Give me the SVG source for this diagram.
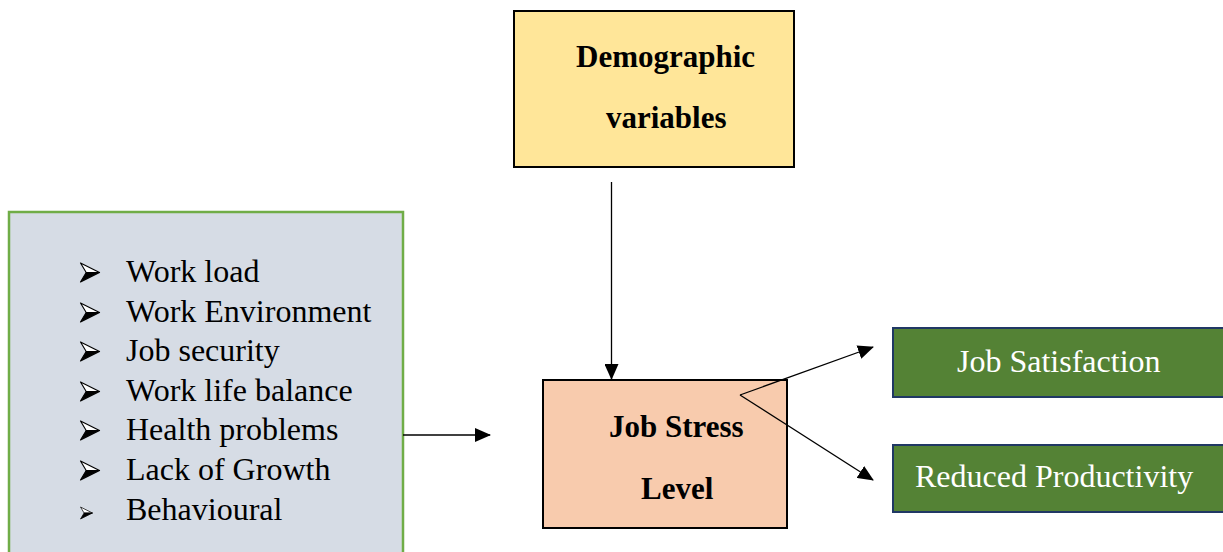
<svg xmlns="http://www.w3.org/2000/svg" xmlns:xlink="http://www.w3.org/1999/xlink" width="1223" height="552" viewBox="0 0 1223 552">
<style>
.t{font-family:"Liberation Serif","Times New Roman",serif;font-size:32px;fill:#000}
.b{font-weight:bold;font-size:31px}
.w{fill:#fff}
.line{stroke:#000;stroke-width:1.3;fill:none}
</style>
<defs>
<marker id="ah" markerWidth="16" markerHeight="14" refX="15" refY="7" orient="auto" markerUnits="userSpaceOnUse">
<path d="M0,0 L16,7 L0,14 z" fill="#000"/>
</marker>
<symbol id="bul" viewBox="0 0 20 20" overflow="visible">
<path d="M0,0 L20,10 L6,10 Z" fill="#fff" stroke="#000" stroke-width="1.2" stroke-linejoin="round"/>
<path d="M0,20 L20,10 L6,10 Z" fill="#000" stroke="#000" stroke-width="1.2" stroke-linejoin="round"/>
</symbol>
</defs>
<rect width="1223" height="552" fill="#fff"/>

<g id="factors">
<rect x="9" y="212" width="394" height="350" fill="#D6DCE5" stroke="#70AD47" stroke-width="2.5"/>
<use xlink:href="#bul" x="80" y="263" width="20" height="19"/>
<use xlink:href="#bul" x="80" y="303" width="20" height="19"/>
<use xlink:href="#bul" x="80" y="342" width="20" height="19"/>
<use xlink:href="#bul" x="80" y="382" width="20" height="19"/>
<use xlink:href="#bul" x="80" y="421" width="20" height="19"/>
<use xlink:href="#bul" x="80" y="461" width="20" height="19"/>
<use xlink:href="#bul" x="80" y="507" width="13" height="12"/>
<text class="t" x="126" y="282">Work load</text>
<text class="t" x="126" y="322">Work Environment</text>
<text class="t" x="126" y="361">Job security</text>
<text class="t" x="126" y="401">Work life balance</text>
<text class="t" x="126" y="440">Health problems</text>
<text class="t" x="126" y="480">Lack of Growth</text>
<text class="t" x="126" y="520">Behavioural</text>
</g>

<g id="demographic">
<rect x="514" y="11" width="280" height="156" fill="#FFE699" stroke="#000" stroke-width="2"/>
<text class="t b" x="576" y="67">Demographic</text>
<text class="t b" x="606" y="128">variables</text>
</g>

<g id="jobstress">
<rect x="543" y="380" width="244" height="148" fill="#F8CBAD" stroke="#000" stroke-width="2"/>
<text class="t b" x="609" y="437">Job Stress</text>
<text class="t b" x="641" y="499">Level</text>
</g>

<g id="satisfaction">
<rect x="893" y="328" width="340" height="69" fill="#548235" stroke="#203864" stroke-width="2"/>
<text class="t w" x="957" y="372">Job Satisfaction</text>
</g>

<g id="productivity">
<rect x="893" y="445" width="340" height="67" fill="#548235" stroke="#203864" stroke-width="2"/>
<text class="t w" x="915" y="487">Reduced Productivity</text>
</g>

<g id="connectors">
<line class="line" x1="611.5" y1="182" x2="611.5" y2="379" marker-end="url(#ah)"/>
<line class="line" x1="403" y1="435" x2="490" y2="435" marker-end="url(#ah)"/>
<line class="line" x1="740" y1="395" x2="873" y2="347" marker-end="url(#ah)"/>
<line class="line" x1="740" y1="395" x2="873" y2="480" marker-end="url(#ah)"/>
</g>
</svg>
